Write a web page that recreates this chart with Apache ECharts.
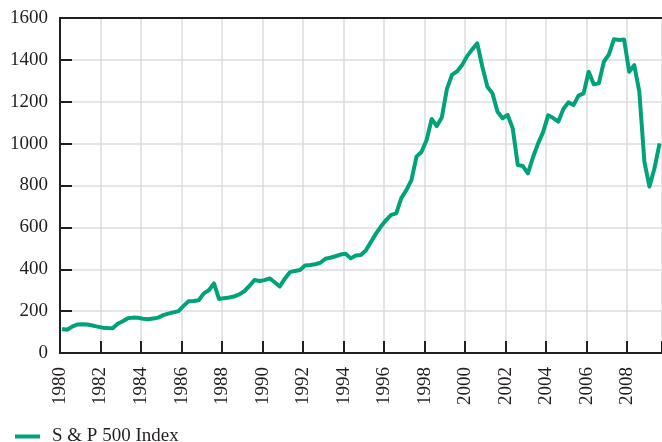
<!DOCTYPE html>
<html>
<head>
<meta charset="utf-8">
<script src="https://cdn.jsdelivr.net/npm/echarts@6/dist/echarts.min.js"></script>
<style>
  html, body { margin: 0; padding: 0; background: #fff; }
  #chart { width: 662px; height: 442px; }
</style>
</head>
<body>
<div id="chart"></div>
<script>
// quarterly readings, first point at 1980.1, one every quarter
const startYear = 1980.1;
const step = 0.25;
const seriesName = 'S & P 500 Index';
const spxValues = [
  115, 111, 126, 136,
  137, 136, 131, 126,
  121, 119, 118, 140,
  152, 166, 169, 168,
  164, 161, 165, 169,
  181, 188, 194, 200,
  225, 247, 248, 252,
  285, 300, 332, 258,
  262, 265, 270, 280,
  295, 320, 349, 344,
  348, 356, 338, 318,
  355, 386, 392, 396,
  418, 420, 424, 431,
  450, 455, 462, 470,
  474, 452, 466, 468,
  490, 530, 570, 605,
  635, 660, 667, 740,
  778, 826, 938, 961,
  1017, 1118, 1084, 1125,
  1260, 1328, 1345, 1375,
  1418, 1450, 1479, 1367,
  1272, 1240, 1152, 1121,
  1137, 1073, 898, 893,
  858, 935, 1000, 1055,
  1135, 1122, 1105, 1165,
  1197, 1184, 1229, 1240,
  1343, 1283, 1288, 1391,
  1426, 1499, 1495, 1497,
  1343, 1375, 1248, 914,
  795, 882, 1001
];
const yTicks = { min: 0, max: 1600, interval: 200 };
const xTicks = { min: 1980, max: 2009.72, interval: 2 };

const spxData = spxValues.map((v, i) => [startYear + i * step, v]);

const ink = '#231f20';
const gridGray = '#dcdcdc';
const font = "'Liberation Serif', 'Times New Roman', serif";

const chart = echarts.init(document.getElementById('chart'));
chart.setOption({
  animation: false,
  grid: { left: 60, top: 18, right: 0, bottom: 89 },
  legend: {
    show: true,
    left: 10,
    top: 422,
    icon: 'rect',
    itemWidth: 25,
    itemHeight: 4,
    textStyle: { fontFamily: font, fontSize: 19, color: ink, padding: [0, 0, 0, 7] },
    data: [seriesName]
  },
  xAxis: [{
    type: 'value',
    min: xTicks.min,
    max: xTicks.max,
    interval: xTicks.interval,
    axisLine: { show: true, lineStyle: { color: ink, width: 2 } },
    axisTick: { show: true, inside: true, length: 12, lineStyle: { color: ink, width: 2 } },
    splitLine: { show: true, lineStyle: { color: gridGray, width: 1.5 } },
    axisLabel: {
      rotate: 90,
      margin: 14,
      fontFamily: font,
      fontSize: 19,
      color: ink,
      formatter: v => (Math.abs(v - Math.round(v)) < 1e-6 ? String(Math.round(v)) : '')
    }
  }, {
    type: 'value',
    position: 'top',
    min: xTicks.min,
    max: xTicks.max,
    axisLine: { show: true, lineStyle: { color: ink, width: 2 } },
    axisTick: { show: false },
    axisLabel: { show: false },
    splitLine: { show: false }
  }],
  yAxis: {
    type: 'value',
    min: yTicks.min,
    max: yTicks.max,
    interval: yTicks.interval,
    axisLine: { show: true, lineStyle: { color: ink, width: 2 } },
    axisTick: { show: true, inside: true, length: 12, lineStyle: { color: ink, width: 2 } },
    splitLine: { show: true, lineStyle: { color: gridGray, width: 1.5 } },
    axisLabel: { margin: 12, fontFamily: font, fontSize: 19, color: ink, formatter: v => String(v) }
  },
  series: [{
    name: seriesName,
    type: 'line',
    xAxisIndex: 0,
    data: spxData,
    showSymbol: false,
    symbol: 'none',
    itemStyle: { color: '#00a278' },
    lineStyle: { color: '#00a278', width: 4, join: 'round' }
  }]
});
</script>
</body>
</html>
